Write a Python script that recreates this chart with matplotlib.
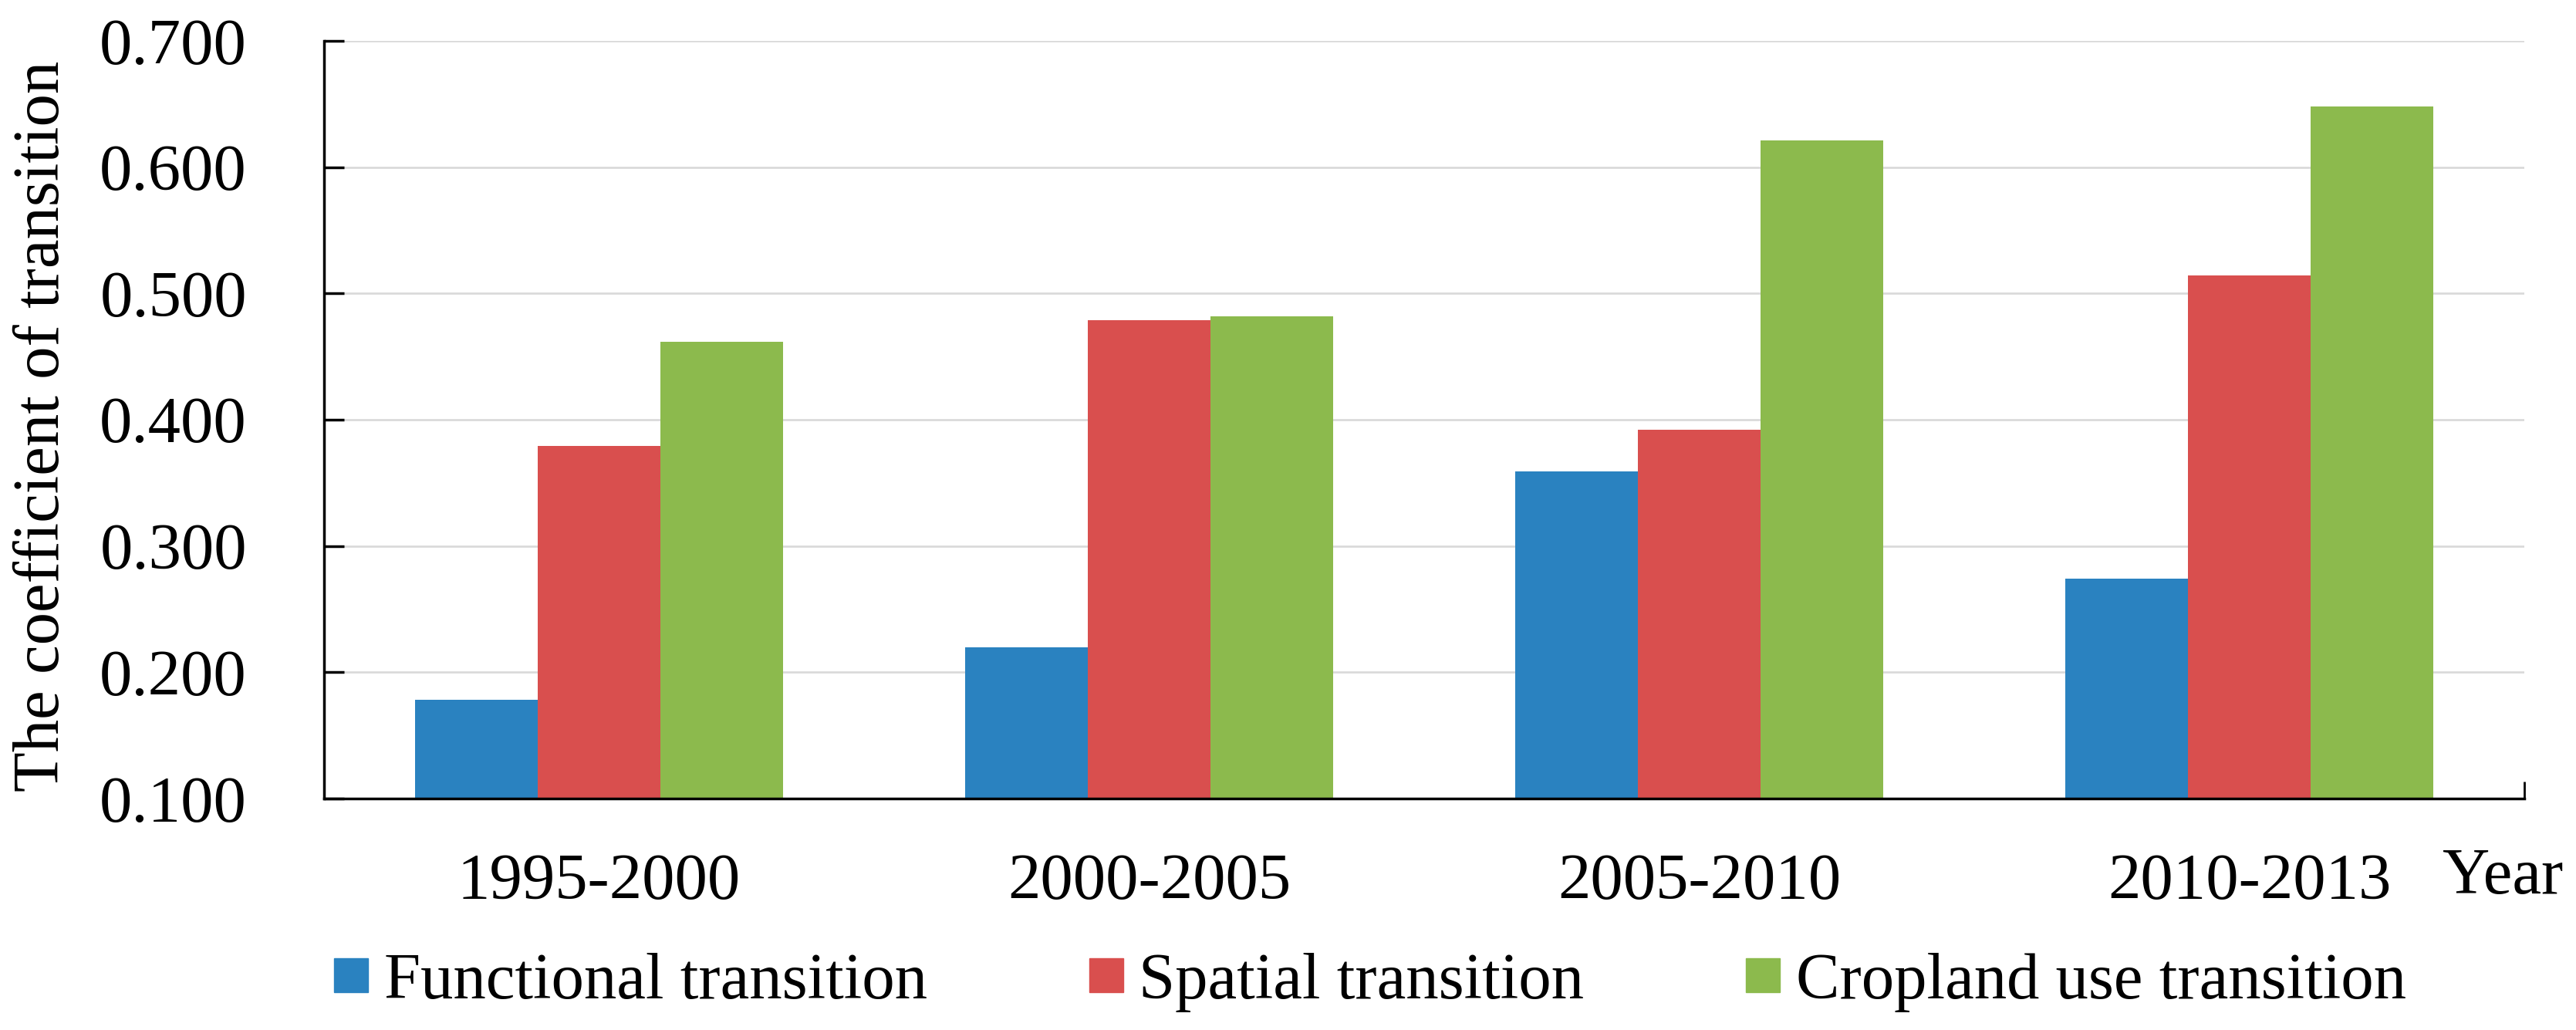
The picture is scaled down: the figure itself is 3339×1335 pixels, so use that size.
import matplotlib
matplotlib.use("Agg")
import matplotlib.pyplot as plt
from matplotlib.lines import Line2D
import numpy as np

categories = ["1995-2000", "2000-2005", "2005-2010", "2010-2013"]
functional = [0.178, 0.220, 0.359, 0.274]
spatial = [0.379, 0.479, 0.392, 0.514]
cropland = [0.462, 0.482, 0.621, 0.648]
series_names = ["Functional transition", "Spatial transition", "Cropland use transition"]
colors = ["#2A82C0", "#D94F4E", "#8CBA4D"]
yticks = [0.1, 0.2, 0.3, 0.4, 0.5, 0.6, 0.7]

plt.rcParams['font.family'] = ['Liberation Serif', 'DejaVu Serif']
FS = 61

W, H = 3339, 1335
fig = plt.figure(figsize=(W / 100, H / 100), dpi=100)
L, R, T, B = 420, 3272, 53, 1035
ax = fig.add_axes([L / W, 1 - B / H, (R - L) / W, (B - T) / H])

x = np.arange(len(categories))
bw = 0.223
for k, (vals, c) in enumerate(zip([functional, spatial, cropland], colors)):
    ax.bar(x + (k - 1) * bw, vals, width=bw, color=c, zorder=2)

ax.set_xlim(-0.5, len(categories) - 0.5)
ax.set_ylim(0.1, 0.7)
ax.set_yticks(yticks)
ax.set_yticklabels([f"{v:.3f}" for v in yticks])
ax.set_xticks(x)
ax.set_xticklabels(categories)
ax.set_xticks([len(categories) - 0.5], minor=True)

ax.grid(axis='y', color='#D9D9D9', linewidth=1.9, zorder=0)
ax.set_axisbelow(True)
for s in ['top', 'right']:
    ax.spines[s].set_visible(False)
for s in ['left', 'bottom']:
    ax.spines[s].set_linewidth(2.5)
    ax.spines[s].set_color('black')

ax.tick_params(axis='y', direction='in', length=19, width=2.5, pad=72, labelsize=FS)
ax.tick_params(axis='x', which='major', direction='in', length=16, width=2.0, pad=51, labelsize=FS)
ax.tick_params(axis='x', which='minor', direction='in', length=16, width=2.0)

fig.text(56 / W, 1 - 552 / H, "The coefficient of transition", rotation=90,
         ha='center', va='center', fontsize=FS)
fig.text(3166 / W, 1 - 1158 / H, "Year", ha='left', va='baseline', fontsize=FS)

handles = [Line2D([], [], marker='s', linestyle='none', markersize=31,
                  markerfacecolor=c, markeredgecolor=c) for c in colors]
fig.legend(handles, series_names, loc='center', ncol=3, frameon=False,
           bbox_to_anchor=(1776 / W, 1 - 1273 / H), fontsize=FS,
           handlelength=0.52, handletextpad=0.24, columnspacing=2.48,
           borderpad=0, borderaxespad=0)

fig.savefig("out.png", dpi=100)
